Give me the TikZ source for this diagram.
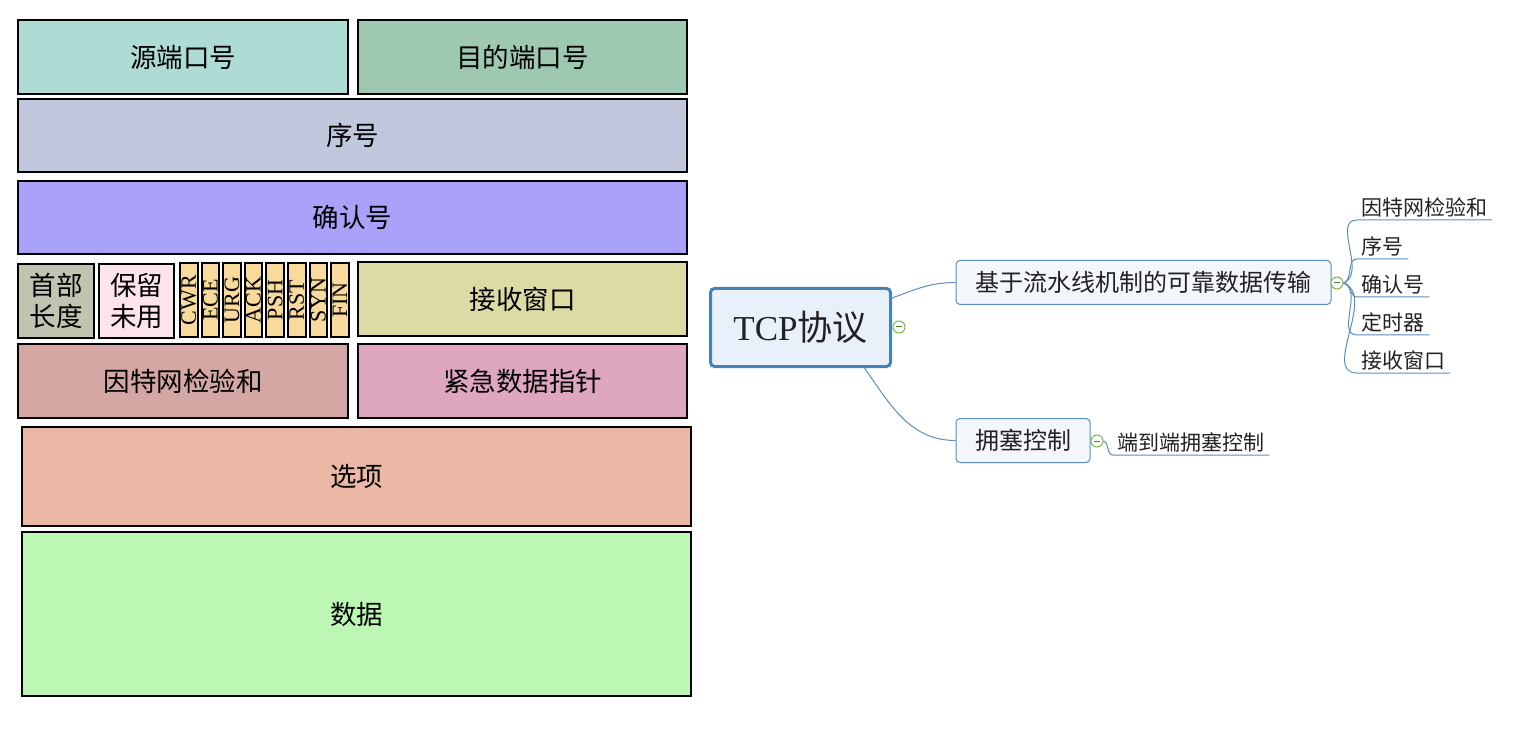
\documentclass[tikz,border=0pt]{standalone}
\usepackage{fontspec}
\setmainfont{Liberation Serif}
\newfontfamily\cjk{Noto Sans CJK SC}
\usetikzlibrary{positioning}
\usepackage{xcolor}
\definecolor{srcfill}{HTML}{AEDCD5}
\definecolor{dstfill}{HTML}{9EC8B1}
\definecolor{seqfill}{HTML}{C1C7DD}
\definecolor{ackfill}{HTML}{A9A2F8}
\definecolor{hlenfill}{HTML}{C0C4B1}
\definecolor{resvfill}{HTML}{FDE4EC}
\definecolor{flagfill}{HTML}{F8DB9C}
\definecolor{winfill}{HTML}{DDDBA5}
\definecolor{csumfill}{HTML}{D5A7A4}
\definecolor{urgfill}{HTML}{DFA6C0}
\definecolor{optfill}{HTML}{ECB8A6}
\definecolor{datafill}{HTML}{BCF7B3}
\definecolor{mmline}{HTML}{5B8DBE}
\definecolor{rootline}{HTML}{4682B4}
\definecolor{rootfill}{HTML}{E8F1FA}
\definecolor{branchfill}{HTML}{F3F7FC}
\definecolor{foldgreen}{HTML}{7DB544}
\definecolor{mmtext}{HTML}{222222}
\tikzset{
  fieldbox/.style = {draw, line width=2pt, inner sep=0pt, align=center,
                     font=\cjk\fontsize{26.5}{31}\selectfont},
  flagbox/.style  = {draw, line width=2pt, inner sep=0pt, fill=flagfill,
                     rotate=90, minimum width=74pt, minimum height=17.5pt,
                     font=\fontsize{22}{22}\selectfont},
  mmroot/.style   = {draw=rootline, line width=3pt, rounded corners=4pt,
                     fill=rootfill, minimum width=180pt, minimum height=78pt,
                     text=mmtext, font=\fontsize{35}{35}\selectfont},
  mmbranch/.style = {draw=mmline, line width=1pt, rounded corners=4pt,
                     fill=branchfill, minimum height=44pt, inner sep=0pt,
                     text=mmtext, font=\cjk\fontsize{24}{24}\selectfont},
  mmleaf/.style   = {anchor=south west, inner xsep=4.5pt, inner ysep=2.5pt,
                     text=mmtext, font=\cjk\fontsize{21}{21}\selectfont},
  mmlink/.style   = {draw=mmline, line width=1pt},
  mmfold/.style   = {circle, draw=foldgreen, fill=white, line width=1pt,
                     minimum size=12pt, inner sep=0pt,
                     path picture={\draw[foldgreen!70!black, line width=1pt]
                       ([xshift=3pt]path picture bounding box.west) --
                       ([xshift=-3pt]path picture bounding box.east);}}
}
\begin{document}
\begin{tikzpicture}[x=1pt, y=-1pt]
  \useasboundingbox (0,0) rectangle (1529,735);

  % header fields
  \node[fieldbox, fill=srcfill, minimum width=330pt, minimum height=74pt] (srcport) at (183,57) {源端口号};
  \node[fieldbox, fill=dstfill, minimum width=329pt, minimum height=74pt] (dstport) at (522.5,57) {目的端口号};
  \node[fieldbox, fill=seqfill, minimum width=669pt, minimum height=73pt] (seqno) at (352.5,135.5) {序号};
  \node[fieldbox, fill=ackfill, minimum width=669pt, minimum height=73pt] (ackno) at (352.5,217.5) {确认号};

  \node[fieldbox, fill=hlenfill, minimum width=76pt, minimum height=74pt] (hdrlen) at (56,301) {首部\\长度};
  \node[fieldbox, fill=resvfill, minimum width=75pt, minimum height=74pt] (resv) at (136.5,301) {保留\\未用};
  \foreach \f [count=\i from 0] in {CWR,ECE,URG,ACK,PSH,RST,SYN,FIN}
    \node[flagbox] (flag\f) at ({188.75+21.6*\i},300) {\f};
  \node[fieldbox, fill=winfill, minimum width=329pt, minimum height=74pt] (rwnd) at (522.5,299) {接收窗口};

  \node[fieldbox, fill=csumfill, minimum width=330pt, minimum height=74pt] (csum) at (183,381) {因特网检验和};
  \node[fieldbox, fill=urgfill, minimum width=329pt, minimum height=74pt] (urgptr) at (522.5,381) {紧急数据指针};
  \node[fieldbox, fill=optfill, minimum width=669pt, minimum height=99pt] (opts) at (356.5,476.5) {选项};
  \node[fieldbox, fill=datafill, minimum width=669pt, minimum height=164pt] (payload) at (356.5,614) {数据};

  % mind map
  \node[mmroot] (root) at (800.5,327.5) {TCP{\cjk 协议}};
  \node[mmfold] (rootfold) at (899,327) {};
  \node[mmbranch, minimum width=375pt] (pipe) at (1143.5,282.5) {基于流水线机制的可靠数据传输};
  \node[mmfold] (pipefold) at (1337,283) {};
  \node[mmbranch, minimum width=134pt] (cong) at (1023,440.5) {拥塞控制};
  \node[mmfold] (congfold) at (1097,441) {};

  \node[mmleaf] (leafcsum)  at (1357,220) {因特网检验和};
  \node[mmleaf] (leafseq)   at (1357,259) {序号};
  \node[mmleaf] (leafack)   at (1357,297) {确认号};
  \node[mmleaf] (leaftimer) at (1357,335) {定时器};
  \node[mmleaf] (leafrwnd)  at (1357,373) {接收窗口};
  \node[mmleaf] (leafe2e)   at (1113,455) {端到端拥塞控制};

  \draw[mmlink] ([yshift=-11pt]root.north east) to[out=20, in=180] (pipe.west);
  \draw[mmlink] ([xshift=64pt]root.south) to[out=-55, in=180] (cong.west);

  \draw[mmlink] (pipefold.east) to[out=20, in=180] (leafcsum.south west) -- (leafcsum.south east);
  \draw[mmlink] (pipefold.east) to[out=20, in=180] (leafseq.south west) -- (leafseq.south east);
  \draw[mmlink] (pipefold.east) to[out=0, in=180] (leafack.south west) -- (leafack.south east);
  \draw[mmlink] (pipefold.east) to[out=-20, in=180] (leaftimer.south west) -- (leaftimer.south east);
  \draw[mmlink] (pipefold.east) to[out=-20, in=180] (leafrwnd.south west) -- (leafrwnd.south east);
  \draw[mmlink] (congfold.east) to[out=-20, in=180] (leafe2e.south west) -- (leafe2e.south east);
\end{tikzpicture}
\end{document}
